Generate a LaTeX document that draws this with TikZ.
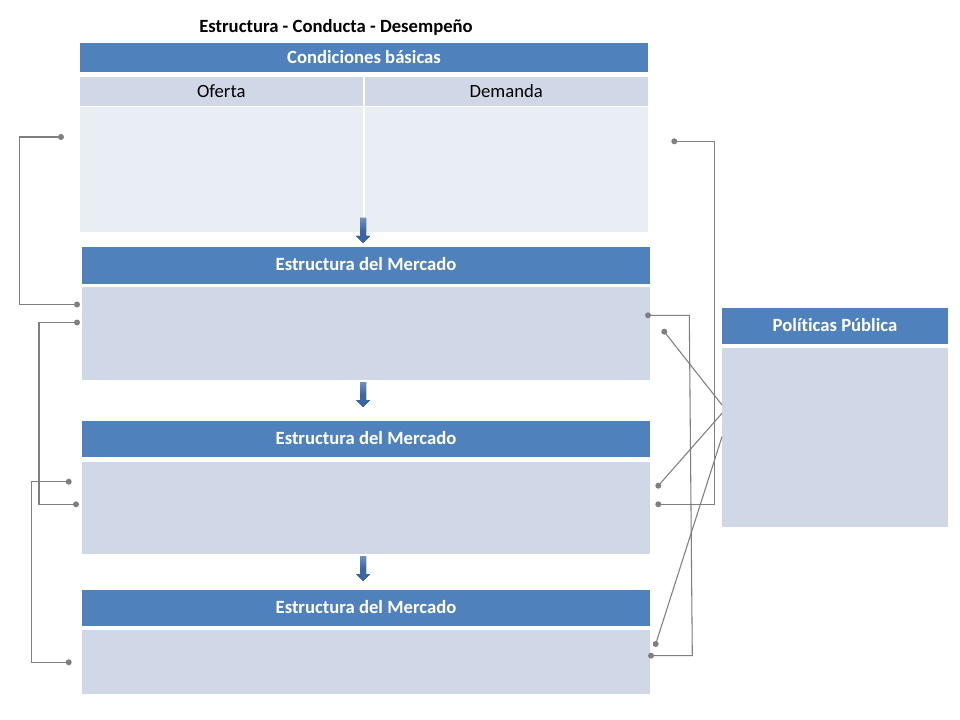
\documentclass[tikz,border=0pt]{standalone}
\usepackage{fontspec}
\setmainfont{Carlito}[Ligatures={NoCommon}]
\definecolor{hdrblue}{HTML}{4F81BD}
\definecolor{bodyblue}{HTML}{D0D8E8}
\definecolor{lightblue}{HTML}{E9EDF4}
\definecolor{arrowblue}{HTML}{3A66A3}
\definecolor{arrowtop}{HTML}{6E90C2}
\definecolor{linegray}{HTML}{7F7F7F}
\begin{document}
\begin{tikzpicture}[x=0.75pt,y=-0.75pt,
  box/.style={rectangle,inner sep=0pt,outer sep=0pt,anchor=north west},
  hdr/.style={box,fill=hdrblue,text=white,font=\fontsize{14pt}{16pt}\selectfont\bfseries},
  sub/.style={box,fill=bodyblue,text=black,font=\fontsize{14pt}{16pt}\selectfont},
  bodybox/.style={box,fill=bodyblue},
  lightbox/.style={box,fill=lightblue},
  dot/.style={circle,fill=linegray,inner sep=0pt,minimum size=4.5pt},
  conn/.style={draw=linegray,line width=0.8pt},
  blockarrow/.style={top color=arrowtop,bottom color=arrowblue,middle color=arrowblue,draw=none}]
\useasboundingbox[fill=white] (0,0) rectangle (960,720);

% title
\node[font=\fontsize{14pt}{16pt}\selectfont\bfseries] (title) at (336,27) {Estructura - Conducta - Desempeño};

% Condiciones basicas
\node[hdr,minimum width=426pt,minimum height=21.75pt] (cb) at (80,43) {Condiciones básicas};
\node[sub,minimum width=211.9pt,minimum height=21.75pt] (of) at (80,77) {Oferta};
\node[sub,minimum width=212.6pt,minimum height=21.75pt] (de) at (364.5,77) {Demanda};
\node[lightbox,minimum width=211.9pt,minimum height=93.75pt] (ofb) at (80,107) {};
\node[lightbox,minimum width=212.6pt,minimum height=93.75pt] (deb) at (364.5,107) {};

% Estructura boxes
\node[hdr,minimum width=426pt,minimum height=27.4pt,text depth=2pt] (e1) at (82,247) {Estructura del Mercado};
\node[bodybox,minimum width=426pt,minimum height=69.4pt] (e1b) at (82,287.5) {};
\node[hdr,minimum width=426pt,minimum height=27pt,text depth=2pt] (e2) at (82,421) {Estructura del Mercado};
\node[bodybox,minimum width=426pt,minimum height=69pt] (e2b) at (82,462) {};
\node[hdr,minimum width=426pt,minimum height=27pt,text depth=2pt] (e3) at (82,590) {Estructura del Mercado};
\node[bodybox,minimum width=426pt,minimum height=48pt] (e3b) at (82,630) {};

% Politicas
\node[hdr,minimum width=169.5pt,minimum height=27pt,text depth=2pt] (pp) at (722,308) {Políticas Pública};
\node[bodybox,minimum width=169.5pt,minimum height=134.25pt] (ppb) at (722,348) {};

% block arrows
\foreach \n/\t in {a1/218,a2/382,a3/556}{
  \fill[blockarrow] (360,\t) -- (366,\t) -- (366,\t+18) -- (370,\t+18) -- (363,\t+25) -- (356,\t+18) -- (360,\t+18) -- cycle;
}

% dots
\node[dot] (dA) at (61,137) {};
\node[dot] (dB) at (77,304.5) {};
\node[dot] (dC) at (77,322.5) {};
\node[dot] (dD) at (76,504.3) {};
\node[dot] (dE) at (68.7,481.7) {};
\node[dot] (dF) at (68.7,662.3) {};
\node[dot] (dG) at (674.3,141.3) {};
\node[dot] (dH) at (658.3,504.3) {};
\node[dot] (dI) at (648,315.3) {};
\node[dot] (dJ) at (651,655.7) {};
\node[dot] (dK) at (664.3,331.7) {};
\node[dot] (dL) at (658.3,485.7) {};
\node[dot] (dM) at (655.7,644) {};

% helper coordinates
\coordinate (xL1) at (19.3,0);
\coordinate (xL2) at (39,0);
\coordinate (xL3) at (31.3,0);
\coordinate (xR1) at (714.3,0);
\coordinate (rItop) at (689.3,315.3);
\coordinate (rIbot) at (692.3,655.7);
\coordinate (pK) at (722,405);
\coordinate (pL) at (722,413.3);
\coordinate (pM) at (722,436.7);

% left connectors
\draw[conn] (dA.center) -- (dA.center -| xL1) -- (dB.center -| xL1) -- (dB.center);
\draw[conn] (dC.center) -- (dC.center -| xL2) -- (dD.center -| xL2) -- (dD.center);
\draw[conn] (dE.center) -- (dE.center -| xL3) -- (dF.center -| xL3) -- (dF.center);

% right connectors
\draw[conn] (dG.center) -- (dG.center -| xR1) -- (dH.center -| xR1) -- (dH.center);
\draw[conn] (dI.center) -- (rItop) -- (rIbot) -- (dJ.center);
\draw[conn] (dK.center) -- (pK);
\draw[conn] (dL.center) -- (pL);
\draw[conn] (dM.center) -- (pM);
\end{tikzpicture}
\end{document}
